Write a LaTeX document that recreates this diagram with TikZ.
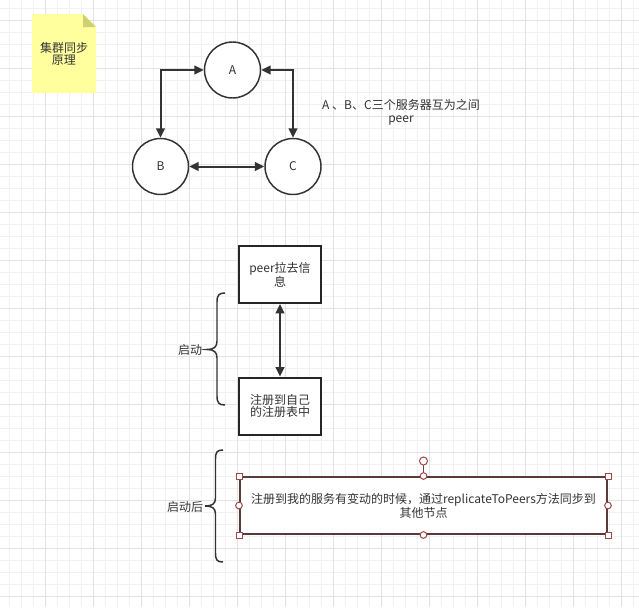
\documentclass[tikz,border=0pt]{standalone}
\usepackage{fontspec}
\newfontfamily\cjk{Noto Sans CJK SC}
\usetikzlibrary{arrows.meta}
\definecolor{ink}{HTML}{333333}
\definecolor{gridminor}{HTML}{F1F1F1}
\definecolor{gridmajor}{HTML}{E2E2E2}
\definecolor{notefill}{HTML}{FFFF9E}
\definecolor{notefold}{HTML}{CFCF6F}
\definecolor{selborder}{HTML}{583A3A}
\definecolor{handle}{HTML}{A04848}
\begin{document}
\begin{tikzpicture}[x=0.75pt,y=-0.75pt,
  txt/.style={font=\cjk\fontsize{9pt}{9.6pt}\selectfont, text=ink, align=center, inner sep=0pt},
  peernode/.style={txt, circle, draw=ink, line width=1.1pt, minimum size=42pt, fill=white},
  stepbox/.style={txt, rectangle, draw=black!85, line width=1.5pt, minimum width=61.5pt, minimum height=42.75pt, fill=white},
  link/.style={draw=ink, line width=1.5pt, {Triangle[length=7pt,width=6.5pt]}-{Triangle[length=7pt,width=6.5pt]}},
  bracepath/.style={draw=ink, line width=1.1pt},
  sqhandle/.style={draw=handle, fill=white, line width=0.75pt, minimum size=4.5pt, inner sep=0pt, rectangle},
  rdhandle/.style={draw=handle, fill=white, line width=0.75pt, minimum size=5pt, inner sep=0pt, circle}
]
\useasboundingbox (0,0) rectangle (639,607);
\fill[white] (0,0) rectangle (639,607);
% grid
\foreach \k in {0,...,52} \draw[gridminor, line width=0.75pt] (9.5+12*\k,0) -- (9.5+12*\k,607);
\foreach \k in {0,...,49} \draw[gridminor, line width=0.75pt] (0,8+12*\k) -- (639,8+12*\k);
\foreach \k in {3,7,...,51} \draw[gridmajor, line width=0.75pt] (9.5+12*\k,0) -- (9.5+12*\k,607);
\foreach \k in {1,5,...,49} \draw[gridmajor, line width=0.75pt] (0,8+12*\k) -- (639,8+12*\k);

% note
\fill[notefill] (32,14) -- (83,14) -- (96,27) -- (96,93) -- (32,93) -- cycle;
\fill[notefold] (83,14) -- (96,27) -- (83,27) -- cycle;
\node[txt] (note) at (64,54) {集群同步\\原理};

% peers
\node[peernode] (A) at (232.5,70) {A};
\node[peernode] (B) at (160.5,166.5) {B};
\node[peernode] (C) at (293,166.5) {C};
\draw[link] (A.west) -| (B.north);
\draw[link] (A.east) -| (C.north);
\draw[link] (B.east) -- (C.west);
\node[txt] (peerlabel) at (401,112) {A 、B、C三个服务器互为之间\\peer};

% startup
\node[stepbox] (pull) at (280,274.5) {peer拉去信\\息};
\node[stepbox] (reg) at (280,406) {注册到自己\\的注册表中};
\draw[link] (pull.south) -- (reg.north);

\draw[bracepath] (225,293) .. controls (219,293) and (217,295) .. (217,302) -- (217,341)
  .. controls (217,347) and (214,349.5) .. (207,349.5)
  .. controls (214,349.5) and (217,352) .. (217,358) -- (217,396)
  .. controls (217,403) and (219,405) .. (225,405);
\node[txt] (qd) at (190,350) {启动};

% after startup
\node[txt, rectangle, draw=selborder, line width=1.5pt, minimum width=275.25pt, minimum height=42.75pt, fill=white] (rep) at (423.5,505.5) {注册到我的服务有变动的时候，通过replicateToPeers方法同步到\\其他节点};
\coordinate (rot) at (423.5,461);
\draw[handle!80!black, line width=0.75pt] (rep.north) -- (rot);
\node[rdhandle, minimum size=6pt] (rh) at (rot) {};
\node[sqhandle] (h1) at (rep.north west) {};
\node[sqhandle] (h2) at (rep.north east) {};
\node[sqhandle] (h3) at (rep.south west) {};
\node[sqhandle] (h4) at (rep.south east) {};
\node[rdhandle] (h5) at (rep.north) {};
\node[rdhandle] (h6) at (rep.south) {};
\node[rdhandle] (h7) at (rep.west) {};
\node[rdhandle] (h8) at (rep.east) {};

\draw[bracepath] (223,450) .. controls (217,450) and (215.5,452) .. (215.5,459) -- (215.5,498)
  .. controls (215.5,504) and (212,506) .. (205,506)
  .. controls (212,506) and (215.5,508) .. (215.5,514) -- (215.5,553)
  .. controls (215.5,560) and (217,562) .. (223,562);
\node[txt] (qdh) at (185,507) {启动后};
\end{tikzpicture}
\end{document}
